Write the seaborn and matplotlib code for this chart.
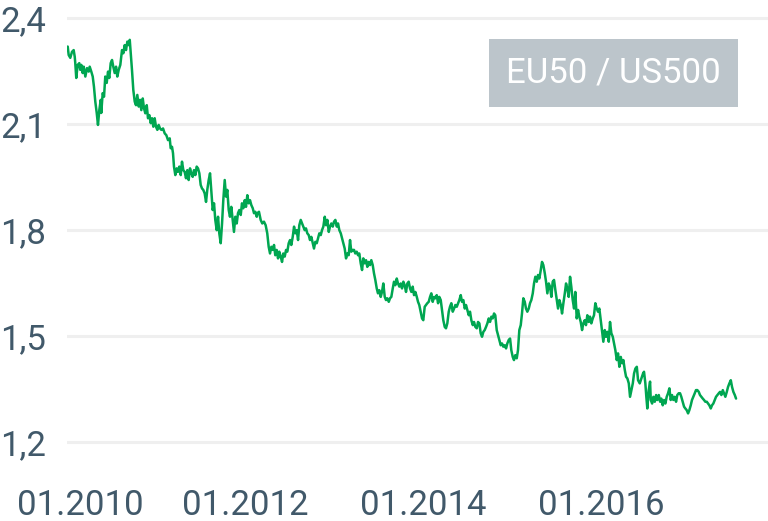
import numpy as np
import matplotlib
matplotlib.use("Agg")
import matplotlib.pyplot as plt
import matplotlib.transforms as mtransforms
import seaborn as sns

# time (fractional year) and EU50 / US500 ratio
years = [
    2010.008, 2010.019, 2010.037, 2010.056, 2010.075, 2010.087, 2010.093, 2010.104, 2010.120, 2010.138,
    2010.149, 2010.161, 2010.176, 2010.188, 2010.206, 2010.225, 2010.244, 2010.255, 2010.273, 2010.289,
    2010.303, 2010.318, 2010.334, 2010.348, 2010.363, 2010.379, 2010.385, 2010.401, 2010.416, 2010.430,
    2010.446, 2010.461, 2010.475, 2010.491, 2010.506, 2010.520, 2010.536, 2010.551, 2010.565, 2010.581,
    2010.599, 2010.618, 2010.633, 2010.648, 2010.663, 2010.678, 2010.693, 2010.705, 2010.716, 2010.730,
    2010.745, 2010.761, 2010.775, 2010.790, 2010.806, 2010.820, 2010.835, 2010.851, 2010.865, 2010.880,
    2010.896, 2010.910, 2010.925, 2010.941, 2010.955, 2010.970, 2010.985, 2011.000, 2011.015, 2011.030,
    2011.045, 2011.060, 2011.079, 2011.098, 2011.116, 2011.135, 2011.154, 2011.165, 2011.180, 2011.191,
    2011.202, 2011.217, 2011.233, 2011.247, 2011.262, 2011.278, 2011.292, 2011.307, 2011.322, 2011.337,
    2011.352, 2011.367, 2011.382, 2011.397, 2011.412, 2011.427, 2011.442, 2011.457, 2011.472, 2011.487,
    2011.502, 2011.517, 2011.531, 2011.547, 2011.562, 2011.576, 2011.592, 2011.607, 2011.621, 2011.637,
    2011.652, 2011.666, 2011.682, 2011.697, 2011.711, 2011.727, 2011.742, 2011.756, 2011.772, 2011.787,
    2011.801, 2011.817, 2011.831, 2011.846, 2011.862, 2011.876, 2011.891, 2011.907, 2011.921, 2011.936,
    2011.952, 2011.966, 2011.981, 2011.997, 2012.011, 2012.026, 2012.042, 2012.056, 2012.071, 2012.087,
    2012.101, 2012.116, 2012.132, 2012.138, 2012.157, 2012.176, 2012.194, 2012.213, 2012.232, 2012.250,
    2012.266, 2012.281, 2012.296, 2012.311, 2012.326, 2012.340, 2012.356, 2012.371, 2012.385, 2012.401,
    2012.416, 2012.430, 2012.446, 2012.461, 2012.475, 2012.491, 2012.506, 2012.520, 2012.536, 2012.551,
    2012.565, 2012.581, 2012.596, 2012.610, 2012.626, 2012.641, 2012.655, 2012.671, 2012.685, 2012.700,
    2012.716, 2012.730, 2012.745, 2012.761, 2012.775, 2012.790, 2012.806, 2012.820, 2012.835, 2012.851,
    2012.865, 2012.880, 2012.896, 2012.910, 2012.925, 2012.941, 2012.955, 2012.970, 2012.986, 2013.000,
    2013.015, 2013.031, 2013.045, 2013.060, 2013.076, 2013.090, 2013.105, 2013.120, 2013.135, 2013.150,
    2013.165, 2013.180, 2013.194, 2013.210, 2013.225, 2013.239, 2013.255, 2013.270, 2013.284, 2013.300,
    2013.315, 2013.329, 2013.345, 2013.360, 2013.374, 2013.390, 2013.405, 2013.419, 2013.435, 2013.449,
    2013.464, 2013.480, 2013.494, 2013.509, 2013.525, 2013.539, 2013.554, 2013.570, 2013.584, 2013.599,
    2013.615, 2013.629, 2013.644, 2013.660, 2013.674, 2013.689, 2013.705, 2013.719, 2013.734, 2013.750,
    2013.764, 2013.779, 2013.794, 2013.809, 2013.824, 2013.839, 2013.854, 2013.869, 2013.884, 2013.899,
    2013.914, 2013.930, 2013.944, 2013.958, 2013.974, 2013.989, 2014.003, 2014.019, 2014.034, 2014.048,
    2014.064, 2014.079, 2014.093, 2014.109, 2014.124, 2014.138, 2014.154, 2014.169, 2014.183, 2014.199,
    2014.213, 2014.228, 2014.244, 2014.258, 2014.273, 2014.289, 2014.303, 2014.318, 2014.334, 2014.349,
    2014.363, 2014.379, 2014.394, 2014.408, 2014.424, 2014.438, 2014.453, 2014.469, 2014.483, 2014.498,
    2014.514, 2014.528, 2014.543, 2014.559, 2014.573, 2014.588, 2014.604, 2014.618, 2014.633, 2014.648,
    2014.663, 2014.678, 2014.693, 2014.708, 2014.723, 2014.738, 2014.753, 2014.768, 2014.783, 2014.798,
    2014.812, 2014.828, 2014.843, 2014.857, 2014.873, 2014.888, 2014.902, 2014.918, 2014.933, 2014.947,
    2014.963, 2014.978, 2014.992, 2015.008, 2015.022, 2015.037, 2015.053, 2015.067, 2015.082, 2015.098,
    2015.112, 2015.127, 2015.143, 2015.157, 2015.172, 2015.188, 2015.202, 2015.217, 2015.233, 2015.247,
    2015.262, 2015.278, 2015.292, 2015.307, 2015.323, 2015.337, 2015.352, 2015.368, 2015.382, 2015.397,
    2015.413, 2015.427, 2015.442, 2015.457, 2015.472, 2015.487, 2015.503, 2015.517, 2015.532, 2015.548,
    2015.562, 2015.577, 2015.593, 2015.607, 2015.621, 2015.637, 2015.652, 2015.666, 2015.682, 2015.697,
    2015.711, 2015.727, 2015.742, 2015.756, 2015.772, 2015.787, 2015.801, 2015.817, 2015.831, 2015.846,
    2015.862, 2015.876, 2015.891, 2015.907, 2015.921, 2015.936, 2015.952, 2015.966, 2015.981, 2015.997,
    2016.011, 2016.026, 2016.042, 2016.056, 2016.071, 2016.087, 2016.101, 2016.116, 2016.132, 2016.146,
    2016.161, 2016.177, 2016.191, 2016.206, 2016.222, 2016.236, 2016.251, 2016.267, 2016.281, 2016.296,
    2016.312, 2016.326, 2016.341, 2016.357, 2016.371, 2016.386, 2016.402, 2016.416, 2016.435, 2016.453,
    2016.472, 2016.483, 2016.498, 2016.509, 2016.520, 2016.536, 2016.551, 2016.559, 2016.574, 2016.588,
    2016.604, 2016.619, 2016.633, 2016.649, 2016.664, 2016.678, 2016.693, 2016.708, 2016.723, 2016.738,
    2016.753, 2016.768, 2016.783, 2016.798, 2016.812, 2016.828, 2016.843, 2016.857, 2016.873, 2016.888,
    2016.902, 2016.918, 2016.933, 2016.947, 2016.963, 2016.978, 2016.992, 2017.008, 2017.022, 2017.037,
    2017.053, 2017.067, 2017.082, 2017.098, 2017.112, 2017.127, 2017.143, 2017.157, 2017.172, 2017.188,
    2017.202, 2017.217, 2017.233, 2017.247, 2017.262, 2017.278, 2017.292, 2017.307, 2017.323, 2017.337,
    2017.352, 2017.368, 2017.382, 2017.397, 2017.413, 2017.427, 2017.442, 2017.458, 2017.472, 2017.487,
    2017.503, 2017.517,
]
ratio = [
    2.320, 2.296, 2.288, 2.305, 2.310, 2.291, 2.273, 2.231, 2.268, 2.273,
    2.254, 2.268, 2.245, 2.263, 2.235, 2.259, 2.249, 2.263, 2.249, 2.235,
    2.206, 2.164, 2.132, 2.098, 2.140, 2.169, 2.132, 2.188, 2.178, 2.235,
    2.217, 2.249, 2.231, 2.273, 2.282, 2.263, 2.245, 2.263, 2.235, 2.254,
    2.268, 2.310, 2.301, 2.324, 2.310, 2.334, 2.324, 2.339, 2.302, 2.254,
    2.197, 2.164, 2.154, 2.183, 2.150, 2.169, 2.140, 2.173, 2.145, 2.131,
    2.154, 2.117, 2.126, 2.103, 2.117, 2.093, 2.117, 2.093, 2.084, 2.098,
    2.088, 2.084, 2.088, 2.074, 2.069, 2.055, 2.060, 2.032, 2.036, 2.018,
    1.980, 1.956, 1.975, 1.965, 1.980, 1.956, 1.994, 1.970, 1.965, 1.947,
    1.970, 1.942, 1.975, 1.961, 1.951, 1.970, 1.956, 1.980, 1.975, 1.961,
    1.928, 1.918, 1.914, 1.904, 1.880, 1.914, 1.942, 1.961, 1.914, 1.857,
    1.876, 1.829, 1.800, 1.838, 1.791, 1.763, 1.819, 1.885, 1.942, 1.895,
    1.914, 1.857, 1.838, 1.866, 1.829, 1.795, 1.838, 1.819, 1.848, 1.857,
    1.843, 1.876, 1.862, 1.885, 1.866, 1.899, 1.876, 1.885, 1.871, 1.862,
    1.848, 1.852, 1.838, 1.848, 1.852, 1.829, 1.819, 1.824, 1.814, 1.791,
    1.753, 1.734, 1.753, 1.744, 1.758, 1.729, 1.744, 1.720, 1.739, 1.725,
    1.710, 1.734, 1.725, 1.744, 1.739, 1.763, 1.772, 1.758, 1.781, 1.810,
    1.791, 1.800, 1.772, 1.814, 1.829, 1.819, 1.810, 1.800, 1.805, 1.791,
    1.786, 1.772, 1.781, 1.763, 1.748, 1.767, 1.763, 1.777, 1.791, 1.786,
    1.800, 1.810, 1.838, 1.814, 1.829, 1.795, 1.810, 1.819, 1.810, 1.824,
    1.829, 1.810, 1.819, 1.800, 1.791, 1.777, 1.763, 1.748, 1.720, 1.734,
    1.729, 1.772, 1.739, 1.744, 1.744, 1.734, 1.739, 1.729, 1.734, 1.706,
    1.687, 1.720, 1.706, 1.715, 1.696, 1.710, 1.701, 1.715, 1.701, 1.678,
    1.659, 1.635, 1.621, 1.630, 1.611, 1.625, 1.649, 1.611, 1.602, 1.607,
    1.597, 1.607, 1.611, 1.635, 1.654, 1.644, 1.663, 1.649, 1.640, 1.649,
    1.635, 1.654, 1.644, 1.625, 1.649, 1.654, 1.635, 1.625, 1.640, 1.616,
    1.625, 1.611, 1.597, 1.588, 1.569, 1.550, 1.545, 1.583, 1.588, 1.593,
    1.597, 1.611, 1.621, 1.597, 1.611, 1.607, 1.616, 1.593, 1.611, 1.602,
    1.574, 1.545, 1.526, 1.522, 1.536, 1.569, 1.583, 1.593, 1.569, 1.578,
    1.588, 1.583, 1.593, 1.602, 1.616, 1.597, 1.602, 1.578, 1.588, 1.574,
    1.559, 1.569, 1.545, 1.531, 1.540, 1.526, 1.522, 1.540, 1.536, 1.508,
    1.498, 1.512, 1.517, 1.526, 1.536, 1.550, 1.540, 1.555, 1.550, 1.564,
    1.559, 1.517, 1.503, 1.489, 1.474, 1.479, 1.470, 1.474, 1.465, 1.479,
    1.489, 1.493, 1.460, 1.441, 1.432, 1.446, 1.437, 1.460, 1.517, 1.531,
    1.564, 1.607, 1.597, 1.578, 1.569, 1.578, 1.593, 1.602, 1.621, 1.649,
    1.668, 1.654, 1.673, 1.663, 1.687, 1.710, 1.701, 1.678, 1.654, 1.621,
    1.649, 1.640, 1.611, 1.654, 1.659, 1.630, 1.602, 1.578, 1.602, 1.588,
    1.564, 1.593, 1.621, 1.649, 1.635, 1.611, 1.668, 1.640, 1.602, 1.578,
    1.625, 1.550, 1.574, 1.555, 1.540, 1.517, 1.536, 1.545, 1.531, 1.559,
    1.540, 1.555, 1.536, 1.550, 1.559, 1.593, 1.578, 1.569, 1.578, 1.545,
    1.517, 1.484, 1.517, 1.498, 1.512, 1.484, 1.540, 1.508, 1.498, 1.479,
    1.460, 1.432, 1.451, 1.413, 1.441, 1.423, 1.432, 1.404, 1.385, 1.380,
    1.366, 1.328, 1.347, 1.366, 1.394, 1.408, 1.413, 1.375, 1.366, 1.380,
    1.394, 1.399, 1.366, 1.328, 1.295, 1.347, 1.371, 1.319, 1.309, 1.328,
    1.314, 1.333, 1.319, 1.333, 1.314, 1.323, 1.304, 1.319, 1.309, 1.328,
    1.338, 1.352, 1.319, 1.333, 1.319, 1.328, 1.314, 1.333, 1.338, 1.338,
    1.328, 1.314, 1.300, 1.295, 1.290, 1.281, 1.290, 1.304, 1.319, 1.328,
    1.338, 1.347, 1.347, 1.342, 1.333, 1.328, 1.323, 1.319, 1.314, 1.314,
    1.309, 1.304, 1.295, 1.304, 1.309, 1.319, 1.328, 1.333, 1.338, 1.342,
    1.333, 1.347, 1.338, 1.328, 1.342, 1.356, 1.366, 1.375, 1.356, 1.342,
    1.333, 1.323,
]
series_name = "EU50 / US500"

y_ticks = [1.2, 1.5, 1.8, 2.1, 2.4]
y_labels = ["1,2", "1,5", "1,8", "2,1", "2,4"]
x_ticks = [2010, 2012, 2014, 2016]
x_labels = ["01.2010", "01.2012", "01.2014", "01.2016"]

sns.set_style("white")
plt.rcParams["font.family"] = ["Roboto", "DejaVu Sans"]

green = "#00a651"
text_col = "#41596a"

fig = plt.figure(figsize=(7.68, 5.21), dpi=100)
ax = fig.add_axes([67 / 768, 0.1313, 1 - 67 / 768, 0.8539])

sns.lineplot(x=years, y=ratio, color=green, linewidth=1.8, label=series_name, ax=ax)

ax.set_xlim(2010.0, 2017.876)
ax.set_ylim(1.17, 2.43)
ax.set_yticks(y_ticks)
ax.set_yticklabels(y_labels)
ax.set_xticks(x_ticks)
ax.set_xticklabels(x_labels)
ax.grid(axis="y", color="#efefef", linewidth=2.2)
ax.grid(axis="x", visible=False)
ax.set_axisbelow(True)
sns.despine(ax=ax, left=True, bottom=True)
ax.tick_params(axis="y", length=0, pad=15, labelsize=25, labelcolor=text_col)
ax.tick_params(axis="x", length=0, pad=26, labelsize=25, labelcolor=text_col)

# first date label sits a bit to the right so it stays inside the canvas
first = ax.get_xticklabels()[0]
first.set_transform(first.get_transform() +
                    mtransforms.ScaledTranslation(13 / 100, 0, fig.dpi_scale_trans))

leg = ax.legend(loc="upper right", bbox_to_anchor=(738 / 768, 1 - 39 / 521),
                bbox_transform=fig.transFigure, handlelength=0, handletextpad=0,
                borderpad=0.5, borderaxespad=0, fancybox=False, frameon=True,
                facecolor="#bcc5cb", edgecolor="none", framealpha=1,
                prop={"size": 25}, labelcolor="white")
for h in leg.legend_handles:
    h.set_visible(False)

fig.savefig("out.png", dpi=100)
